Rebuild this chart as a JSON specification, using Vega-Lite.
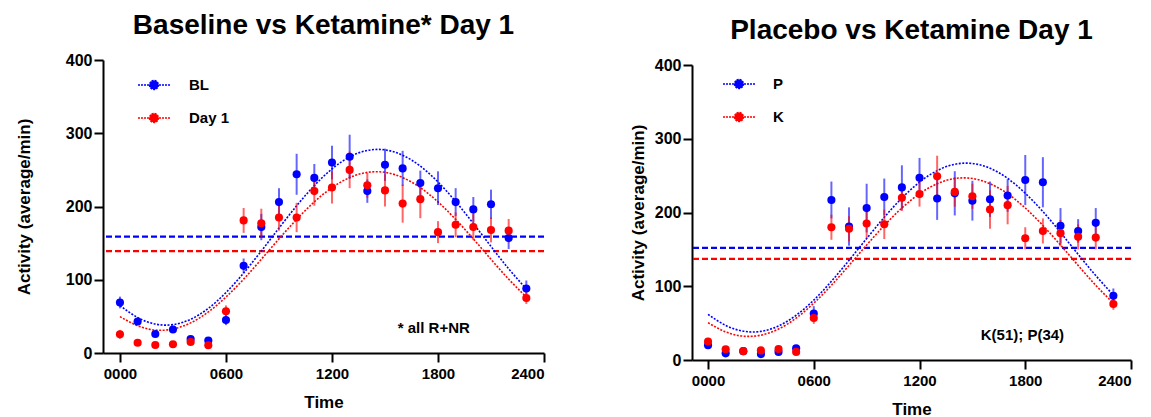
{
"$schema": "https://vega.github.io/schema/vega-lite/v6.json",
"background": "white",
"padding": {"left": 15, "top": 12, "right": 0, "bottom": 0},
"spacing": 83,
"config": {
  "font": "Liberation Sans",
  "view": {"stroke": null},
  "axis": {"grid": false, "domainColor": "black", "domainWidth": 2, "tickColor": "black", "tickWidth": 2, "labelColor": "black", "titleColor": "black", "labelFont": "Liberation Sans", "titleFont": "Liberation Sans", "labelFontWeight": "bold", "titleFontWeight": "bold", "titleFontSize": 17},
  "title": {"font": "Liberation Sans", "fontSize": 28, "fontWeight": "bold", "color": "black", "anchor": "middle", "baseline": "alphabetic"},
  "legend": {"padding": 0}
},
"datasets": {
  "lpts": [
    {"g":"BL","h":0,"m":69,"lo":61,"hi":77},{"g":"BL","h":1,"m":43,"lo":38,"hi":48},{"g":"BL","h":2,"m":26,"lo":22,"hi":30},{"g":"BL","h":3,"m":32,"lo":28,"hi":36},{"g":"BL","h":4,"m":19,"lo":16,"hi":22},{"g":"BL","h":5,"m":17,"lo":14,"hi":20},{"g":"BL","h":6,"m":45,"lo":38,"hi":52},{"g":"BL","h":7,"m":119,"lo":109,"hi":129},{"g":"BL","h":8,"m":172,"lo":154,"hi":190},{"g":"BL","h":9,"m":206,"lo":187,"hi":225},{"g":"BL","h":10,"m":244,"lo":216,"hi":272},{"g":"BL","h":11,"m":239,"lo":220,"hi":258},{"g":"BL","h":12,"m":260,"lo":237,"hi":283},{"g":"BL","h":13,"m":268,"lo":238,"hi":298},{"g":"BL","h":14,"m":221,"lo":205,"hi":237},{"g":"BL","h":15,"m":257,"lo":235,"hi":279},{"g":"BL","h":16,"m":252,"lo":228,"hi":276},{"g":"BL","h":17,"m":232,"lo":215,"hi":249},{"g":"BL","h":18,"m":225,"lo":202,"hi":248},{"g":"BL","h":19,"m":206,"lo":187,"hi":225},{"g":"BL","h":20,"m":196,"lo":179,"hi":213},{"g":"BL","h":21,"m":203,"lo":183,"hi":223},{"g":"BL","h":22,"m":157,"lo":142,"hi":172},{"g":"BL","h":23,"m":88,"lo":77,"hi":99},
    {"g":"Day 1","h":0,"m":25.5,"lo":19.5,"hi":31.5},{"g":"Day 1","h":1,"m":14,"lo":11,"hi":17},{"g":"Day 1","h":2,"m":11,"lo":8,"hi":14},{"g":"Day 1","h":3,"m":12,"lo":9,"hi":15},{"g":"Day 1","h":4,"m":15,"lo":12,"hi":18},{"g":"Day 1","h":5,"m":10.5,"lo":7.5,"hi":13.5},{"g":"Day 1","h":6,"m":57,"lo":49,"hi":65},{"g":"Day 1","h":7,"m":181,"lo":164,"hi":198},{"g":"Day 1","h":8,"m":177,"lo":157,"hi":197},{"g":"Day 1","h":9,"m":185,"lo":167,"hi":203},{"g":"Day 1","h":10,"m":185,"lo":165,"hi":205},{"g":"Day 1","h":11,"m":221,"lo":201,"hi":241},{"g":"Day 1","h":12,"m":226,"lo":204,"hi":248},{"g":"Day 1","h":13,"m":250,"lo":225,"hi":275},{"g":"Day 1","h":14,"m":229,"lo":212,"hi":246},{"g":"Day 1","h":15,"m":222,"lo":200,"hi":244},{"g":"Day 1","h":16,"m":204,"lo":178,"hi":230},{"g":"Day 1","h":17,"m":210,"lo":184,"hi":236},{"g":"Day 1","h":18,"m":165,"lo":150,"hi":180},{"g":"Day 1","h":19,"m":175,"lo":158,"hi":192},{"g":"Day 1","h":20,"m":172,"lo":154,"hi":190},{"g":"Day 1","h":21,"m":168,"lo":151,"hi":185},{"g":"Day 1","h":22,"m":167,"lo":151,"hi":183},{"g":"Day 1","h":23,"m":75,"lo":67,"hi":83}
  ],
  "lfit": [
    {"g":"BL","h":0,"f":64.7},{"g":"BL","h":1,"f":48.4},{"g":"BL","h":2,"f":39.5},{"g":"BL","h":3,"f":38.7},{"g":"BL","h":4,"f":46.0},{"g":"BL","h":5,"f":60.9},{"g":"BL","h":6,"f":82.5},{"g":"BL","h":7,"f":109.2},{"g":"BL","h":8,"f":139.2},{"g":"BL","h":9,"f":170.5},{"g":"BL","h":10,"f":201.0},{"g":"BL","h":11,"f":228.5},{"g":"BL","h":12,"f":251.3},{"g":"BL","h":13,"f":267.6},{"g":"BL","h":14,"f":276.5},{"g":"BL","h":15,"f":277.3},{"g":"BL","h":16,"f":270.0},{"g":"BL","h":17,"f":255.1},{"g":"BL","h":18,"f":233.5},{"g":"BL","h":19,"f":206.8},{"g":"BL","h":20,"f":176.8},{"g":"BL","h":21,"f":145.5},{"g":"BL","h":22,"f":115.0},{"g":"BL","h":23,"f":87.5},
    {"g":"Day 1","h":0,"f":49.7},{"g":"Day 1","h":1,"f":37.2},{"g":"Day 1","h":2,"f":31.3},{"g":"Day 1","h":3,"f":32.7},{"g":"Day 1","h":4,"f":41.1},{"g":"Day 1","h":5,"f":56.0},{"g":"Day 1","h":6,"f":76.4},{"g":"Day 1","h":7,"f":100.8},{"g":"Day 1","h":8,"f":127.9},{"g":"Day 1","h":9,"f":155.8},{"g":"Day 1","h":10,"f":182.4},{"g":"Day 1","h":11,"f":206.3},{"g":"Day 1","h":12,"f":225.8},{"g":"Day 1","h":13,"f":239.5},{"g":"Day 1","h":14,"f":246.6},{"g":"Day 1","h":15,"f":246.6},{"g":"Day 1","h":16,"f":239.5},{"g":"Day 1","h":17,"f":225.8},{"g":"Day 1","h":18,"f":206.3},{"g":"Day 1","h":19,"f":182.4},{"g":"Day 1","h":20,"f":155.8},{"g":"Day 1","h":21,"f":127.9},{"g":"Day 1","h":22,"f":100.8},{"g":"Day 1","h":23,"f":76.4}
  ],
  "lmes": [{"g":"BL","v":159},{"g":"Day 1","v":139}],
  "rpts": [
    {"g":"P","h":0,"m":20,"lo":16,"hi":24},{"g":"P","h":1,"m":9,"lo":6,"hi":12},{"g":"P","h":2,"m":12,"lo":9,"hi":15},{"g":"P","h":3,"m":8,"lo":5,"hi":11},{"g":"P","h":4,"m":11,"lo":8,"hi":14},{"g":"P","h":5,"m":16,"lo":12,"hi":20},{"g":"P","h":6,"m":63,"lo":53,"hi":73},{"g":"P","h":7,"m":217,"lo":192,"hi":242},{"g":"P","h":8,"m":181,"lo":155,"hi":207},{"g":"P","h":9,"m":206,"lo":173,"hi":239},{"g":"P","h":10,"m":221,"lo":196,"hi":246},{"g":"P","h":11,"m":234,"lo":204,"hi":264},{"g":"P","h":12,"m":247,"lo":220,"hi":274},{"g":"P","h":13,"m":219,"lo":190,"hi":248},{"g":"P","h":14,"m":226,"lo":196,"hi":256},{"g":"P","h":15,"m":216,"lo":189,"hi":243},{"g":"P","h":16,"m":218,"lo":194,"hi":242},{"g":"P","h":17,"m":223,"lo":201,"hi":245},{"g":"P","h":18,"m":244,"lo":210,"hi":278},{"g":"P","h":19,"m":241,"lo":207,"hi":275},{"g":"P","h":20,"m":182,"lo":158,"hi":206},{"g":"P","h":21,"m":175,"lo":159,"hi":191},{"g":"P","h":22,"m":186,"lo":166,"hi":206},{"g":"P","h":23,"m":87,"lo":77,"hi":97},
    {"g":"K","h":0,"m":25,"lo":20,"hi":30},{"g":"K","h":1,"m":14.5,"lo":11.5,"hi":17.5},{"g":"K","h":2,"m":12,"lo":9,"hi":15},{"g":"K","h":3,"m":13,"lo":10,"hi":16},{"g":"K","h":4,"m":15,"lo":12,"hi":18},{"g":"K","h":5,"m":11,"lo":8,"hi":14},{"g":"K","h":6,"m":57,"lo":49,"hi":65},{"g":"K","h":7,"m":180,"lo":163,"hi":197},{"g":"K","h":8,"m":178,"lo":161,"hi":195},{"g":"K","h":9,"m":185,"lo":165,"hi":205},{"g":"K","h":10,"m":184,"lo":164,"hi":204},{"g":"K","h":11,"m":220,"lo":202,"hi":238},{"g":"K","h":12,"m":225,"lo":208,"hi":242},{"g":"K","h":13,"m":249,"lo":221,"hi":277},{"g":"K","h":14,"m":228,"lo":208,"hi":248},{"g":"K","h":15,"m":222,"lo":205,"hi":239},{"g":"K","h":16,"m":204,"lo":178,"hi":230},{"g":"K","h":17,"m":210,"lo":184,"hi":236},{"g":"K","h":18,"m":165,"lo":150,"hi":180},{"g":"K","h":19,"m":175,"lo":158,"hi":192},{"g":"K","h":20,"m":172,"lo":154,"hi":190},{"g":"K","h":21,"m":167,"lo":150,"hi":184},{"g":"K","h":22,"m":166,"lo":150,"hi":182},{"g":"K","h":23,"m":76,"lo":68,"hi":84}
  ],
  "rfit": [
    {"g":"P","h":0,"f":61.9},{"g":"P","h":1,"f":46.9},{"g":"P","h":2,"f":39.1},{"g":"P","h":3,"f":38.8},{"g":"P","h":4,"f":46.2},{"g":"P","h":5,"f":60.7},{"g":"P","h":6,"f":81.2},{"g":"P","h":7,"f":106.7},{"g":"P","h":8,"f":135.2},{"g":"P","h":9,"f":164.7},{"g":"P","h":10,"f":193.5},{"g":"P","h":11,"f":219.6},{"g":"P","h":12,"f":241.1},{"g":"P","h":13,"f":256.8},{"g":"P","h":14,"f":265.4},{"g":"P","h":15,"f":266.5},{"g":"P","h":16,"f":260.0},{"g":"P","h":17,"f":246.2},{"g":"P","h":18,"f":226.1},{"g":"P","h":19,"f":201.3},{"g":"P","h":20,"f":173.0},{"g":"P","h":21,"f":143.3},{"g":"P","h":22,"f":114.5},{"g":"P","h":23,"f":88.0},
    {"g":"K","h":0,"f":50.6},{"g":"K","h":1,"f":38.1},{"g":"K","h":2,"f":32.3},{"g":"K","h":3,"f":33.7},{"g":"K","h":4,"f":42.0},{"g":"K","h":5,"f":56.8},{"g":"K","h":6,"f":77.1},{"g":"K","h":7,"f":101.3},{"g":"K","h":8,"f":128.3},{"g":"K","h":9,"f":155.9},{"g":"K","h":10,"f":182.4},{"g":"K","h":11,"f":206.1},{"g":"K","h":12,"f":225.5},{"g":"K","h":13,"f":239.0},{"g":"K","h":14,"f":246.1},{"g":"K","h":15,"f":246.1},{"g":"K","h":16,"f":239.0},{"g":"K","h":17,"f":225.5},{"g":"K","h":18,"f":206.1},{"g":"K","h":19,"f":182.4},{"g":"K","h":20,"f":155.9},{"g":"K","h":21,"f":128.3},{"g":"K","h":22,"f":101.3},{"g":"K","h":23,"f":77.1}
  ],
  "rmes": [{"g":"P","v":152},{"g":"K","v":137}],
  "lnote": [{"t":"* all R+NR","h":17.76,"v":34}],
  "rnote": [{"t":"K(51); P(34)","h":17.84,"v":34}]
},
"hconcat": [
  {
    "title": {"text": "Baseline vs Ketamine* Day 1", "offset": 12},
    "width": 441, "height": 293,
    "layer": [
      {"data": {"name": "lmes"}, "mark": {"type": "rule", "strokeDash": [6, 3], "strokeWidth": 2.2},
       "encoding": {"y": {"field": "v", "type": "quantitative", "scale": {"domain": [0, 400], "nice": false}, "axis": {"values": [0,100,200,300,400], "title": "Activity (average/min)", "labelFontSize": 16, "tickSize": 9, "labelPadding": 2, "titlePadding": 32}},
         "color": {"field": "g", "type": "nominal", "scale": {"domain": ["BL", "Day 1"], "range": ["#0000FF", "#FF0000"]}}}},
      {"data": {"name": "lfit"}, "mark": {"type": "line", "interpolate": "natural", "strokeDash": [2, 1.5], "strokeWidth": 1.6},
       "encoding": {"x": {"field": "h", "type": "quantitative", "scale": {"domain": [-0.96, 24], "nice": false, "zero": false}, "axis": {"values": [0,6,12,18,24], "labelExpr": "(datum.value < 10 ? '0' : '') + datum.value + '00'", "title": "Time", "labelFontSize": 15, "tickSize": 9, "labelPadding": 4, "titlePadding": 13}},
         "y": {"field": "f", "type": "quantitative", "scale": {"domain": [0, 400], "nice": false}, "axis": {"values": [0,100,200,300,400], "title": "Activity (average/min)", "labelFontSize": 16, "tickSize": 9, "labelPadding": 2, "titlePadding": 32}},
         "color": {"field": "g", "type": "nominal", "scale": {"domain": ["BL", "Day 1"], "range": ["#0000FF", "#FF0000"]}}}},
      {"data": {"name": "lpts"}, "mark": {"type": "rule", "strokeWidth": 2, "opacity": 0.6},
       "encoding": {"x": {"field": "h", "type": "quantitative", "scale": {"domain": [-0.96, 24], "nice": false, "zero": false}, "axis": {"values": [0,6,12,18,24], "labelExpr": "(datum.value < 10 ? '0' : '') + datum.value + '00'", "title": "Time", "labelFontSize": 15, "tickSize": 9, "labelPadding": 4, "titlePadding": 13}},
         "y": {"field": "lo", "type": "quantitative", "scale": {"domain": [0, 400], "nice": false}, "axis": {"values": [0,100,200,300,400], "title": "Activity (average/min)", "labelFontSize": 16, "tickSize": 9, "labelPadding": 2, "titlePadding": 32}},
         "y2": {"field": "hi"},
         "color": {"field": "g", "type": "nominal", "scale": {"domain": ["BL", "Day 1"], "range": ["#0000FF", "#FF0000"]}}}},
      {"data": {"name": "lpts"}, "mark": {"type": "point", "filled": true, "size": 66, "opacity": 1},
       "encoding": {"x": {"field": "h", "type": "quantitative", "scale": {"domain": [-0.96, 24], "nice": false, "zero": false}, "axis": {"values": [0,6,12,18,24], "labelExpr": "(datum.value < 10 ? '0' : '') + datum.value + '00'", "title": "Time", "labelFontSize": 15, "tickSize": 9, "labelPadding": 4, "titlePadding": 13}},
         "y": {"field": "m", "type": "quantitative", "scale": {"domain": [0, 400], "nice": false}, "axis": {"values": [0,100,200,300,400], "title": "Activity (average/min)", "labelFontSize": 16, "tickSize": 9, "labelPadding": 2, "titlePadding": 32}},
         "color": {"field": "g", "type": "nominal", "scale": {"domain": ["BL", "Day 1"], "range": ["#0000FF", "#FF0000"]},
           "legend": {"title": null, "orient": "none", "legendX": 34, "legendY": 8, "symbolType": "M-1,0L1,0M-0.28,0A0.28,0.28,0,1,0,0.28,0A0.28,0.28,0,1,0,-0.28,0Z", "symbolSize": 1024, "symbolStrokeWidth": 1.5, "symbolDash": [2, 1], "symbolOpacity": 1, "labelFontSize": 15, "labelFontWeight": "bold", "labelColor": "black", "labelOffset": 18, "rowPadding": 8,
             "encode": {"symbols": {"update": {"stroke": {"signal": "datum.value === 'BL' ? '#0000FF' : '#FF0000'"}, "fill": {"signal": "datum.value === 'BL' ? '#0000FF' : '#FF0000'"}, "strokeWidth": {"value": 1.5}, "strokeDash": {"value": [2, 1]}, "opacity": {"value": 1}}}}}}}},
      {"data": {"name": "lnote"}, "mark": {"type": "text", "fontSize": 15, "fontWeight": "bold", "font": "Liberation Sans", "color": "black"},
       "encoding": {"x": {"field": "h", "type": "quantitative", "scale": {"domain": [-0.96, 24], "nice": false, "zero": false}},
         "y": {"field": "v", "type": "quantitative", "scale": {"domain": [0, 400], "nice": false}},
         "text": {"field": "t"}}}
    ]
  },
  {
    "title": {"text": "Placebo vs Ketamine Day 1", "offset": 12},
    "width": 439, "height": 300,
    "layer": [
      {"data": {"name": "rmes"}, "mark": {"type": "rule", "strokeDash": [6, 3], "strokeWidth": 2.2},
       "encoding": {"y": {"field": "v", "type": "quantitative", "scale": {"domain": [0, 400], "nice": false, "range": [300, 5]}, "axis": {"values": [0,100,200,300,400], "title": "Activity (average/min)", "labelFontSize": 16, "tickSize": 9, "labelPadding": 2, "titlePadding": 7}},
         "color": {"field": "g", "type": "nominal", "scale": {"domain": ["P", "K"], "range": ["#0000FF", "#FF0000"]}}}},
      {"data": {"name": "rfit"}, "mark": {"type": "line", "interpolate": "natural", "strokeDash": [2, 1.5], "strokeWidth": 1.6},
       "encoding": {"x": {"field": "h", "type": "quantitative", "scale": {"domain": [-0.91, 24], "nice": false, "zero": false}, "axis": {"values": [0,6,12,18,24], "labelExpr": "(datum.value < 10 ? '0' : '') + datum.value + '00'", "title": "Time", "labelFontSize": 15, "tickSize": 9, "labelPadding": 4, "titlePadding": 13}},
         "y": {"field": "f", "type": "quantitative", "scale": {"domain": [0, 400], "nice": false, "range": [300, 5]}, "axis": {"values": [0,100,200,300,400], "title": "Activity (average/min)", "labelFontSize": 16, "tickSize": 9, "labelPadding": 2, "titlePadding": 7}},
         "color": {"field": "g", "type": "nominal", "scale": {"domain": ["P", "K"], "range": ["#0000FF", "#FF0000"]}}}},
      {"data": {"name": "rpts"}, "mark": {"type": "rule", "strokeWidth": 2, "opacity": 0.6},
       "encoding": {"x": {"field": "h", "type": "quantitative", "scale": {"domain": [-0.91, 24], "nice": false, "zero": false}, "axis": {"values": [0,6,12,18,24], "labelExpr": "(datum.value < 10 ? '0' : '') + datum.value + '00'", "title": "Time", "labelFontSize": 15, "tickSize": 9, "labelPadding": 4, "titlePadding": 13}},
         "y": {"field": "lo", "type": "quantitative", "scale": {"domain": [0, 400], "nice": false, "range": [300, 5]}, "axis": {"values": [0,100,200,300,400], "title": "Activity (average/min)", "labelFontSize": 16, "tickSize": 9, "labelPadding": 2, "titlePadding": 7}},
         "y2": {"field": "hi"},
         "color": {"field": "g", "type": "nominal", "scale": {"domain": ["P", "K"], "range": ["#0000FF", "#FF0000"]}}}},
      {"data": {"name": "rpts"}, "mark": {"type": "point", "filled": true, "size": 66, "opacity": 1},
       "encoding": {"x": {"field": "h", "type": "quantitative", "scale": {"domain": [-0.91, 24], "nice": false, "zero": false}, "axis": {"values": [0,6,12,18,24], "labelExpr": "(datum.value < 10 ? '0' : '') + datum.value + '00'", "title": "Time", "labelFontSize": 15, "tickSize": 9, "labelPadding": 4, "titlePadding": 13}},
         "y": {"field": "m", "type": "quantitative", "scale": {"domain": [0, 400], "nice": false, "range": [300, 5]}, "axis": {"values": [0,100,200,300,400], "title": "Activity (average/min)", "labelFontSize": 16, "tickSize": 9, "labelPadding": 2, "titlePadding": 7}},
         "color": {"field": "g", "type": "nominal", "scale": {"domain": ["P", "K"], "range": ["#0000FF", "#FF0000"]},
           "legend": {"title": null, "orient": "none", "legendX": 30, "legendY": 7, "symbolType": "M-1,0L1,0M-0.28,0A0.28,0.28,0,1,0,0.28,0A0.28,0.28,0,1,0,-0.28,0Z", "symbolSize": 1024, "symbolStrokeWidth": 1.5, "symbolDash": [2, 1], "symbolOpacity": 1, "labelFontSize": 15, "labelFontWeight": "bold", "labelColor": "black", "labelOffset": 17, "rowPadding": 8,
             "encode": {"symbols": {"update": {"stroke": {"signal": "datum.value === 'P' ? '#0000FF' : '#FF0000'"}, "fill": {"signal": "datum.value === 'P' ? '#0000FF' : '#FF0000'"}, "strokeWidth": {"value": 1.5}, "strokeDash": {"value": [2, 1]}, "opacity": {"value": 1}}}}}}}},
      {"data": {"name": "rnote"}, "mark": {"type": "text", "fontSize": 15, "fontWeight": "bold", "font": "Liberation Sans", "color": "black"},
       "encoding": {"x": {"field": "h", "type": "quantitative", "scale": {"domain": [-0.91, 24], "nice": false, "zero": false}},
         "y": {"field": "v", "type": "quantitative", "scale": {"domain": [0, 400], "nice": false, "range": [300, 5]}},
         "text": {"field": "t"}}}
    ]
  }
],
"resolve": {"scale": {"color": "independent"}, "legend": {"color": "independent"}}
}
